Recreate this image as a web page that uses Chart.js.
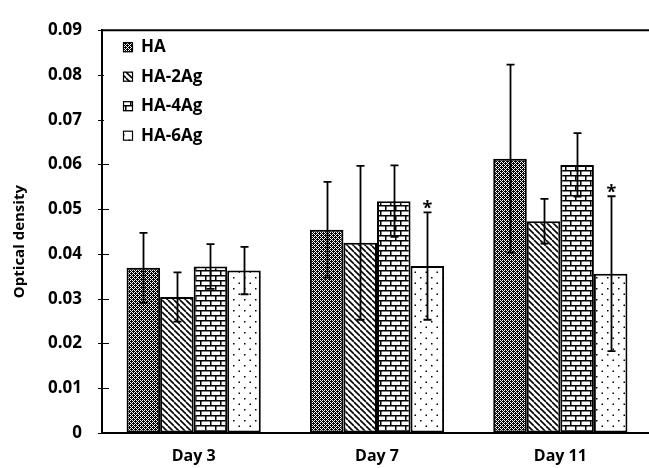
<!DOCTYPE html>
<html>
<head>
<meta charset="utf-8">
<script src="https://cdn.jsdelivr.net/npm/chart.js@4.4.1/dist/chart.umd.min.js"></script>
<style>
  body { margin: 0; background: #fff; }
  #wrap { width: 649px; height: 468px; overflow: hidden; }
</style>
</head>
<body>
<div id="wrap"><canvas id="odChart" width="652" height="468"></canvas></div>
<script>
// categories and series
const days = ['Day 3', 'Day 7', 'Day 11'];
const seriesNames = ['HA', 'HA-2Ag', 'HA-4Ag', 'HA-6Ag'];

// means and error (sd)
const haMean = [0.0369, 0.0454, 0.0613];
const haErr = [0.0078, 0.0107, 0.0210];
const ag2Mean = [0.0304, 0.0425, 0.0473];
const ag2Err = [0.0055, 0.0172, 0.0050];
const ag4Mean = [0.0372, 0.0518, 0.0599];
const ag4Err = [0.0050, 0.0080, 0.0071];
const ag6Mean = [0.0363, 0.0373, 0.0356];
const ag6Err = [0.0053, 0.0120, 0.0173];
const ag6Marks = ['', '*', '*'];

// y axis
const yMin = 0;
const yMax = 0.09;
const yStep = 0.01;
const yTitle = 'Optical density';

const FONT = '"Open Sans", "DejaVu Sans", sans-serif';

// small helper to build fill patterns
function makePattern(w, h, draw) {
    const c = document.createElement('canvas');
    c.width = w;
    c.height = h;
    const g = c.getContext('2d');
    g.fillStyle = '#fff';
    g.fillRect(0, 0, w, h);
    draw(g);
    return g.createPattern(c, 'repeat');
}

// fine dark checker
const patDark = makePattern(4, 4, g => {
    g.fillStyle = '#000';
    g.fillRect(0, 0, 4, 4);
    g.fillStyle = '#fff';
    [[0, 0], [2, 0], [1, 1], [0, 2], [2, 2], [3, 3]].forEach(p => g.fillRect(p[0], p[1], 1, 1));
});

const patDiag = makePattern(6, 6, g => {
    g.strokeStyle = '#000';
    g.lineWidth = 1.6;
    g.beginPath();
    for (let k = -6; k <= 12; k += 6) {
        g.moveTo(k, 0);
        g.lineTo(k + 6, 6);
    }
    g.stroke();
});

const patBrick = makePattern(10, 10, g => {
    g.fillStyle = '#000';
    g.fillRect(0, 0, 10, 1.5);
    g.fillRect(0, 5, 10, 1.5);
    g.fillRect(0, 0, 1.5, 5);
    g.fillRect(5, 5, 1.5, 5);
});

const patDots = makePattern(11, 11, g => {
    g.fillStyle = '#000';
    g.fillRect(2, 2, 1.5, 1.5);
    g.fillRect(7.5, 7.5, 1.5, 1.5);
});

const fills = [patDark, patDiag, patBrick, patDots];
const means = [haMean, ag2Mean, ag4Mean, ag6Mean];
const errs = [haErr, ag2Err, ag4Err, ag6Err];
const marks = [[], [], [], ag6Marks];

Chart.defaults.font.family = FONT;
Chart.defaults.font.weight = 'bold';
Chart.defaults.color = '#000';

// error bars and significance marks
const errorBars = {
    id: 'errorBars',
    afterDatasetsDraw(chart) {
        const ctx = chart.ctx;
        const y = chart.scales.y;
        ctx.save();
        ctx.strokeStyle = '#000';
        ctx.lineWidth = 1.8;
        chart.data.datasets.forEach((ds, i) => {
            chart.getDatasetMeta(i).data.forEach((bar, j) => {
                const hi = y.getPixelForValue(ds.data[j] + ds.err[j]);
                const lo = y.getPixelForValue(ds.data[j] - ds.err[j]);
                const x = Math.round(bar.x) + 0.5;
                ctx.beginPath();
                ctx.moveTo(x, hi);
                ctx.lineTo(x, lo);
                ctx.moveTo(x - 4, hi);
                ctx.lineTo(x + 4, hi);
                ctx.moveTo(x - 4, lo);
                ctx.lineTo(x + 4, lo);
                ctx.stroke();
                const m = ds.marks[j];
                if (m) {
                    ctx.fillStyle = '#000';
                    ctx.font = 'bold 18px ' + FONT;
                    ctx.textAlign = 'center';
                    ctx.textBaseline = 'alphabetic';
                    ctx.fillText(m, x, hi + 2);
                }
            });
        });
        ctx.restore();
    }
};

// top frame line, crossing tick marks, axis title and the inset legend
const frameAndLegend = {
    id: 'frameAndLegend',
    afterDraw(chart) {
        const ctx = chart.ctx;
        const a = chart.chartArea;
        const y = chart.scales.y;
        ctx.save();
        ctx.strokeStyle = '#000';
        ctx.lineWidth = 2;
        ctx.beginPath();
        ctx.moveTo(a.left - 1, a.top);
        ctx.lineTo(a.right + 5, a.top);
        ctx.stroke();

        ctx.lineWidth = 1;
        y.ticks.forEach(t => {
            const py = Math.round(y.getPixelForValue(t.value)) + 0.5;
            ctx.beginPath();
            ctx.moveTo(a.left - 4, py);
            ctx.lineTo(a.left + 7, py);
            ctx.stroke();
        });

        // y axis title
        ctx.save();
        ctx.translate(20, (a.top + a.bottom) / 2 + 10);
        ctx.rotate(-Math.PI / 2);
        ctx.fillStyle = '#000';
        ctx.font = 'bold 15px ' + FONT;
        ctx.textAlign = 'center';
        ctx.textBaseline = 'middle';
        ctx.fillText(yTitle, 0, 0);
        ctx.restore();

        // legend
        ctx.fillStyle = '#fff';
        ctx.fillRect(a.left + 2, a.top + 3, 140, 124);
        ctx.font = 'bold 17px ' + FONT;
        ctx.textAlign = 'left';
        ctx.textBaseline = 'middle';
        chart.data.datasets.forEach((ds, i) => {
            const cy = a.top + 17 + i * 29.5;
            const bx = a.left + 21;
            ctx.fillStyle = ds.backgroundColor;
            ctx.fillRect(bx, cy - 5, 10, 10);
            ctx.lineWidth = 1.2;
            ctx.strokeStyle = '#000';
            ctx.strokeRect(bx + 0.5, cy - 4.5, 9, 9);
            ctx.fillStyle = '#000';
            ctx.fillText(ds.label, bx + 18, cy);
        });
        ctx.restore();
    }
};

const ctx = document.getElementById('odChart').getContext('2d');
new Chart(ctx, {
    type: 'bar',
    data: {
        labels: days,
        datasets: seriesNames.map((name, i) => ({
            label: name,
            data: means[i],
            err: errs[i],
            marks: marks[i],
            backgroundColor: fills[i],
            borderColor: '#000',
            borderWidth: 2,
            borderSkipped: false,
            categoryPercentage: 0.732,
            barPercentage: 1.0
        }))
    },
    options: {
        responsive: false,
        animation: false,
        devicePixelRatio: 1,
        layout: { padding: { top: 21, right: 0, bottom: 0, left: 0 } },
        plugins: {
            legend: { display: false },
            tooltip: { enabled: false }
        },
        scales: {
            x: {
                grid: { display: false, drawTicks: false },
                border: { display: true, color: '#000', width: 2 },
                ticks: { padding: 14, font: { size: 16, weight: 'bold' } },
                afterFit(s) { s.height = 35; }
            },
            y: {
                min: yMin,
                max: yMax,
                grid: { drawOnChartArea: false, drawTicks: false },
                border: { display: true, color: '#000', width: 2 },
                ticks: {
                    stepSize: yStep,
                    padding: 20,
                    font: { size: 17, weight: 'bold' },
                    callback: v => (Math.abs(v) < 1e-9 ? '0' : v.toFixed(2))
                },
                afterFit(s) { s.width = 102; }
            }
        }
    },
    plugins: [errorBars, frameAndLegend]
});
</script>
</body>
</html>
